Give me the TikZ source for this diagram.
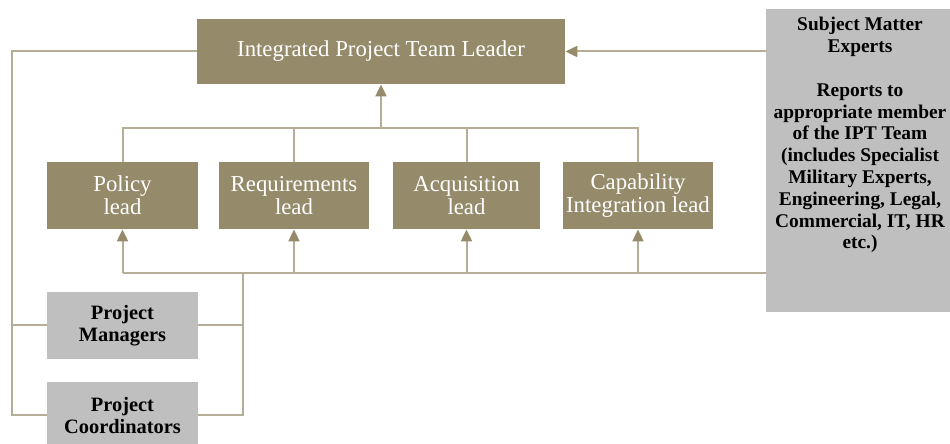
\documentclass[tikz,border=0pt]{standalone}
\usepackage{fontspec}
\setmainfont{Liberation Serif}
\usetikzlibrary{arrows.meta}
\definecolor{boxolive}{HTML}{958B6B}
\definecolor{boxgrey}{HTML}{BFBFBF}
\definecolor{linktan}{HTML}{B6AD97}
\begin{document}
\begin{tikzpicture}[x=0.5pt, y=-0.5pt,
        lead/.style={fill=boxolive, text=white, align=center, inner sep=0pt,
            font=\fontsize{11.4}{11.6}\selectfont},
        staff/.style={fill=boxgrey, text=black, align=center, inner sep=0pt,
            font=\bfseries\fontsize{10.2}{11.2}\selectfont},
        link/.style={draw=linktan, line width=1pt},
        arr/.style={link, -{Triangle[width=5.5pt, length=6pt, color=boxolive, fill=boxolive]}}]
            \useasboundingbox (0,0) rectangle (950,444);

            \node[lead, minimum width=184pt, minimum height=32.5pt] (iptl) at (381, 51.5) {Integrated Project Team Leader};
            \node[lead, minimum width=75.5pt, minimum height=33.5pt] (policy) at (122.5, 195.5) {Policy\\lead};
            \node[lead, minimum width=75pt, minimum height=33.5pt] (req) at (294, 195.5) {Requirements\\lead};
            \node[lead, minimum width=73.5pt, minimum height=33.5pt] (acq) at (466.5, 195.5) {Acquisition\\lead};
            \node[lead, minimum width=75pt, minimum height=33.5pt] (cap) at (638, 195.5) {Capability\\Integration lead};
            \node[staff, minimum width=75.5pt, minimum height=33.5pt] (pm) at (122.5, 325.5) {Project\\Managers};
            \node[staff, minimum width=75.5pt, minimum height=33.5pt] (pc) at (122.5, 415.5) {Project\\Coordinators};
            \node[staff, minimum width=97pt, minimum height=151.5pt] (sme) at (863, 160.5) {};
            \node[staff, anchor=north, font=\bfseries\fontsize{9.7}{10.9}\selectfont] (smetext) at (860, 17) {Subject Matter\\Experts\\[10.9pt]Reports to\\appropriate member\\of the IPT Team\\(includes Specialist\\Military Experts,\\Engineering, Legal,\\Commercial, IT, HR\\etc.)};

            \coordinate (topbus) at (381, 128);
            \coordinate (lowbus) at (243, 273);
            \coordinate (lftTop) at (12, 51.5);
            \coordinate (lftBot) at (12, 415.5);

            \draw[link] (iptl.west) -- (lftTop) -- (lftBot) -- (pc.west);
            \draw[link] (lftTop |- pm.west) -- (pm.west);
            \draw[arr] (sme.west |- iptl.east) -- (iptl.east);

            \draw[link] (policy.north) |- (cap.north |- topbus) -- (cap.north);
            \draw[link] (req.north |- topbus) -- (req.north);
            \draw[link] (acq.north |- topbus) -- (acq.north);
            \draw[arr] (iptl.south |- topbus) -- (iptl.south);

            \draw[link] (sme.west |- lowbus) -- (policy.south |- lowbus);
            \draw[arr] (policy.south |- lowbus) -- (policy.south);
            \draw[arr] (req.south |- lowbus) -- (req.south);
            \draw[arr] (acq.south |- lowbus) -- (acq.south);
            \draw[arr] (cap.south |- lowbus) -- (cap.south);
            \draw[link] (pc.east) -| (lowbus);
            \draw[link] (pm.east) -- (lowbus |- pm.east);
        \end{tikzpicture}
\end{document}
